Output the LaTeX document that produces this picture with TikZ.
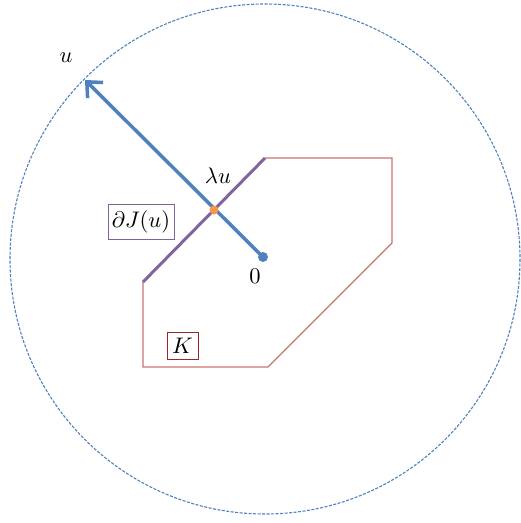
\documentclass[tikz,border=0pt]{standalone}
\usepackage{graphicx}
\usetikzlibrary{arrows.meta}
\definecolor{cblue}{RGB}{79,129,189}
\definecolor{kred}{RGB}{200,115,112}
\definecolor{kbox}{RGB}{150,40,40}
\definecolor{cpurple}{RGB}{128,100,162}
\definecolor{corange}{RGB}{247,150,70}
\newcommand{\biglbl}[1]{\scalebox{2.25}{#1}}
\tikzset{
  lbl/.style={inner sep=1pt},
  boxlbl/.style={lbl,draw,line width=1pt,inner sep=2pt},
}
\begin{document}
\begin{tikzpicture}[x=1pt,y=-1pt]
\useasboundingbox (0,0) rectangle (521,523);
% circle
\draw[cblue,line width=1.1pt,dash pattern=on 3pt off 1.5pt] (265,259) circle (255);
% K polygon
\coordinate (k1) at (265,158);
\coordinate (k2) at (392,158);
\coordinate (k3) at (392,243);
\coordinate (k4) at (268,367);
\coordinate (k5) at (143,367);
\coordinate (k6) at (143,282);
\draw[kred,line width=1.3pt,line join=miter] (k1) -- (k2) -- (k3) -- (k4) -- (k5) -- (k6);
\draw[cpurple,line width=3pt] (k6) -- (k1);
% arrow
\coordinate (o) at (263,257);
\coordinate (tip) at (85,80);
\draw[cblue,line width=3.5pt,-{Straight Barb[length=12pt,width=22pt,line width=3.5pt]}] (o) -- (tip);
\fill[cblue] (o) circle (5);
\fill[corange] (214,210) circle (4.5);
% labels
\node[lbl] (lu) at (66,58) {\biglbl{$u$}};
\node[lbl] (llam) at (218,176) {\biglbl{$\lambda u$}};
\node[lbl] (lzero) at (255,276) {\biglbl{$0$}};
\node[boxlbl,cpurple,text=black,minimum width=66pt,minimum height=35pt] (lJ) at (141,221.5) {\biglbl{$\partial J(u)$}};
\node[boxlbl,kbox,text=black,minimum width=31pt,minimum height=27pt] (lK) at (182.5,345.5) {\biglbl{$K$}};
\end{tikzpicture}
\end{document}
